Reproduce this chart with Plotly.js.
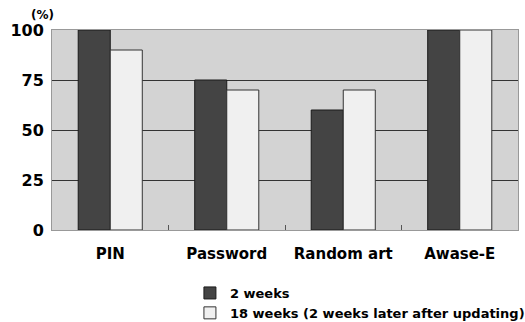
<!DOCTYPE html>
<html><head><meta charset="utf-8">
<script src="https://cdn.plot.ly/plotly-3.0.1.min.js"></script>
<style>html,body{margin:0;padding:0;background:#fff;}</style>
</head><body>
<div id="chart" style="width:525px;height:322px;"></div>
<script>
const categories = ["PIN", "Password", "Random art", "Awase-E"];
const weeks2 = [100, 75, 60, 100];
const weeks18 = [90, 70, 70, 100];
const seriesNames = ["2 weeks", "18 weeks (2 weeks later after updating)"];
const yTicks = [0, 25, 50, 75, 100];

const font = {family: "DejaVu Sans", color: "#000"};
const traces = [
  {type: "bar", x: categories, y: weeks2, name: seriesNames[0],
   marker: {color: "#444444", line: {color: "#1a1a1a", width: 1}}},
  {type: "bar", x: categories, y: weeks18, name: seriesNames[1],
   marker: {color: "#f0f0f0", line: {color: "#333333", width: 1}}}
];
const layout = {
  width: 525, height: 322,
  margin: {l: 52, r: 7, t: 30, b: 92, autoexpand: false},
  paper_bgcolor: "#ffffff", plot_bgcolor: "#d3d3d3",
  barmode: "group", bargap: 0.45, bargroupgap: 0,
  font: font,
  xaxis: {
    automargin: false, tickangle: 0,
    showgrid: false, ticks: "inside", tickson: "boundaries", ticklen: 5,
    tickcolor: "#555", showline: true, mirror: true, linecolor: "#999", linewidth: 1,
    tickfont: {family: "DejaVu Sans", size: 15, weight: "bold", color: "#000"},
    ticklabelstandoff: 10
  },
  yaxis: {
    automargin: false,
    range: [0, 100], tickvals: yTicks, ticks: "", showgrid: true,
    gridcolor: "#333", gridwidth: 1, zeroline: false,
    showline: true, mirror: true, linecolor: "#999", linewidth: 1,
    tickfont: {family: "DejaVu Sans", size: 16, weight: "bold", color: "#000"},
    ticklabelstandoff: 4
  },
  showlegend: true,
  legend: {
    x: 0.296, xanchor: "left", y: -0.24, yanchor: "top",
    font: {family: "DejaVu Sans", size: 13, weight: "bold", color: "#000"},
    bgcolor: "rgba(0,0,0,0)", tracegroupgap: 0
  },
  annotations: [{
    text: "(%)", xref: "paper", yref: "paper", x: 0.008, y: 1.075,
    xanchor: "right", yanchor: "middle", showarrow: false,
    font: {family: "DejaVu Sans", size: 12, weight: "bold", color: "#000"}
  }]
};
Plotly.newPlot("chart", traces, layout, {displayModeBar: false, staticPlot: true});
</script>
</body></html>
